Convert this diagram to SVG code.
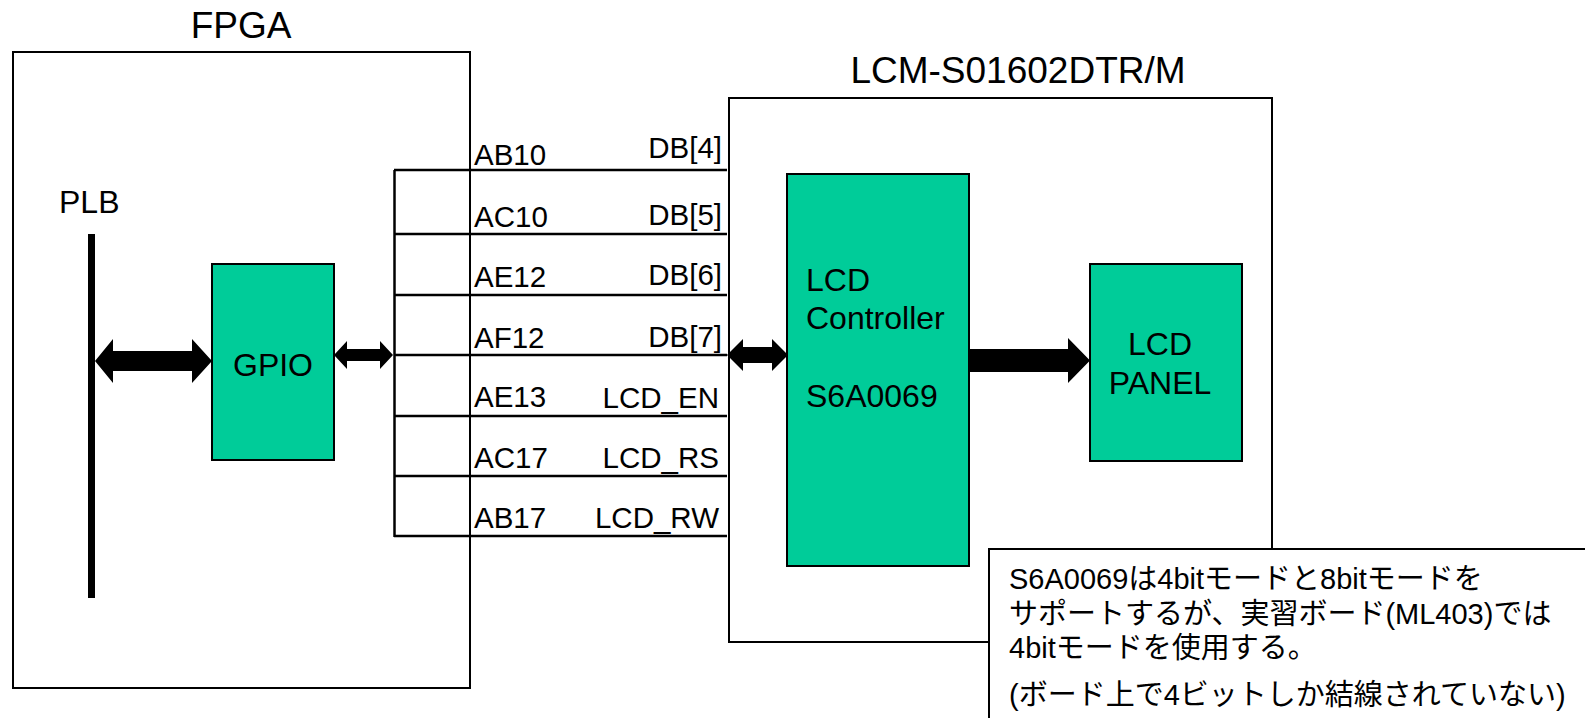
<svg xmlns="http://www.w3.org/2000/svg" width="1585" height="718" viewBox="0 0 1585 718">
<style>
text{font-family:"Liberation Sans","Noto Sans CJK JP",Arial,sans-serif;fill:#000}
.box{fill:#fff;stroke:#000;stroke-width:2}
.blk{fill:#00CC99;stroke:#000;stroke-width:2}
.sig{font-size:29.5px}
.lbl{font-size:32px}
.ttl{font-size:37px}
.note{font-size:29px}
.wire{stroke:#000;stroke-width:2.5;fill:none}
.arr{fill:#000;stroke:none}
</style>
<g id="fpga">
<rect class="box" x="13" y="52" width="457" height="636"/>
<text class="ttl" x="241" y="38" text-anchor="middle">FPGA</text>
</g>
<g id="plb">
<rect x="88" y="234" width="7" height="364" fill="#000"/>
<text class="lbl" x="59" y="213">PLB</text>
</g>
<g id="gpio">
<rect class="blk" x="212" y="264" width="122" height="196"/>
<text class="lbl" x="273" y="376" text-anchor="middle">GPIO</text>
</g>
<g id="lcm">
<rect class="box" x="729" y="98" width="543" height="544"/>
<text class="ttl" x="1018" y="83" text-anchor="middle">LCM-S01602DTR/M</text>
</g>
<g id="controller">
<rect class="blk" x="787" y="174" width="182" height="392"/>
<text class="lbl" x="806" y="291">LCD</text>
<text class="lbl" x="806" y="329">Controller</text>
<text class="lbl" x="806" y="407">S6A0069</text>
</g>
<g id="panel">
<rect class="blk" x="1090" y="264" width="152" height="197"/>
<text class="lbl" x="1160" y="355" text-anchor="middle">LCD</text>
<text class="lbl" x="1160" y="394" text-anchor="middle">PANEL</text>
</g>
<g id="connectors">
<path class="wire" d="M394.5 170 V537"/>
<path class="wire" d="M394 170 H727 M394 234 H727 M394 295 H727 M394 355 H727 M394 416 H727 M394 476 H727 M394 536 H727"/>
<polygon class="arr" points="95,361 113,339 113,351 192,351 192,339 212,361 192,383 192,371 113,371 113,383"/>
<polygon class="arr" points="334,355 347,341 347,349 380,349 380,341 393,355 380,369 380,361 347,361 347,369"/>
<polygon class="arr" points="727,355 743,339 743,347 772,347 772,339 788,355 772,371 772,363 743,363 743,371"/>
<polygon class="arr" points="969,349 1068,349 1068,338 1090,360.5 1068,383 1068,372 969,372"/>
</g>
<g id="signals">
<text class="sig" x="474" y="165">AB10</text>
<text class="sig" x="474" y="227">AC10</text>
<text class="sig" x="474" y="287">AE12</text>
<text class="sig" x="474" y="348">AF12</text>
<text class="sig" x="474" y="407">AE13</text>
<text class="sig" x="474" y="468">AC17</text>
<text class="sig" x="474" y="528">AB17</text>
<text class="sig" x="722" y="158" text-anchor="end">DB[4]</text>
<text class="sig" x="722" y="225" text-anchor="end">DB[5]</text>
<text class="sig" x="722" y="285" text-anchor="end">DB[6]</text>
<text class="sig" x="722" y="347" text-anchor="end">DB[7]</text>
<text class="sig" x="719" y="408" text-anchor="end">LCD_EN</text>
<text class="sig" x="719" y="468" text-anchor="end">LCD_RS</text>
<text class="sig" x="719" y="528" text-anchor="end">LCD_RW</text>
</g>
<g id="note">
<rect class="box" x="989" y="549" width="610" height="190"/>
<text class="note" x="1009" y="589">S6A0069は4bitモードと8bitモードを</text>
<text class="note" x="1009" y="624">サポートするが、実習ボード(ML403)では</text>
<text class="note" x="1009" y="658">4bitモードを使用する。</text>
<text class="note" x="1009" y="705">(ボード上で4ビットしか結線されていない)</text>
</g>
</svg>
